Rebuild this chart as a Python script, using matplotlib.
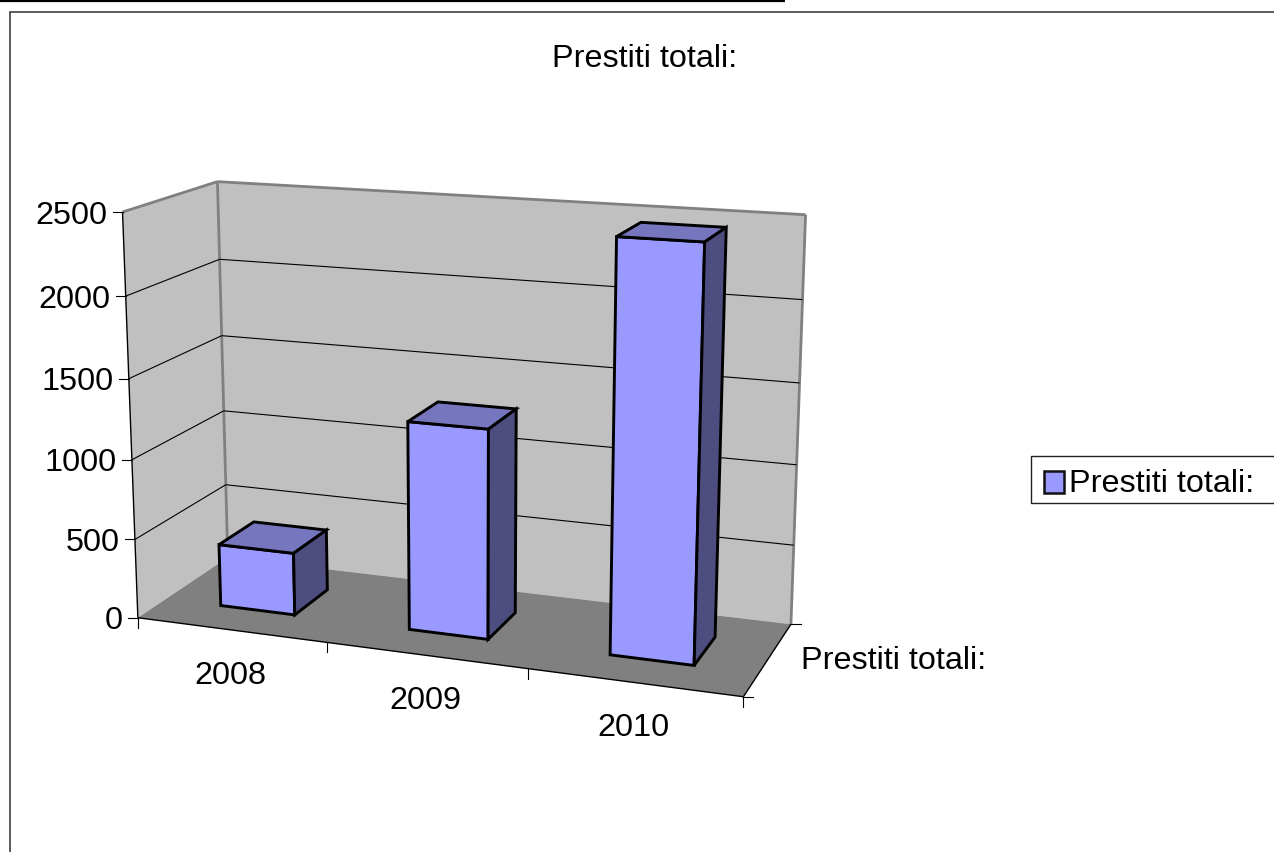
import numpy as np
import matplotlib
matplotlib.use('Agg')
import matplotlib.pyplot as plt
from matplotlib.patches import Polygon, Rectangle

years = ['2008', '2009', '2010']
prestiti = [395, 1290, 2465]
value_ticks = [0, 500, 1000, 1500, 2000, 2500]
series_name = 'Prestiti totali:'

# camera of the 3D box: (slot, depth, value / 2500, 1) -> homogeneous pixel
CAMERA = np.array([[178.909228, 108.821147, -20.706498, 137.876581],
                   [4.83842, -14.003912, -414.969112, 617.743045],
                   [-0.030848, 0.083041, -0.043686, 1.0]])
ZMAX = value_ticks[-1]
NCAT = len(years)

WALL = '#c0c0c0'
FLOOR = '#808080'
FRONT = '#9999ff'
TOP = '#7676bf'
SIDE = '#4d4d80'
FS = 23.3


def pr(x, y, z):
    h = CAMERA @ np.array([x, y, z / ZMAX, 1.0])
    return h[:2] / h[2]


def face(ax, corners, color, edge='black', lw=2.1, z=2):
    ax.add_patch(Polygon([pr(*c) for c in corners], closed=True, facecolor=color,
                         edgecolor=edge, linewidth=lw, joinstyle='miter', zorder=z))


def seg(ax, a, b, color='black', lw=0.8, z=3):
    p, q = pr(*a), pr(*b)
    ax.plot([p[0], q[0]], [p[1], q[1]], color=color, lw=lw,
            solid_capstyle='butt', zorder=z)


plt.rcParams['font.family'] = ['Liberation Sans', 'DejaVu Sans']
fig = plt.figure(figsize=(12.74, 8.52), dpi=100)
ax = fig.add_axes([0, 0, 1, 1])
ax.set_xlim(0, 1274)
ax.set_ylim(852, 0)
ax.axis('off')

# page rule and chart frame
ax.plot([0, 785], [0.8, 0.8], color='black', lw=1.6, solid_capstyle='butt')
ax.plot([9.7, 9.7, 1274], [852, 12, 12], color='#404040', lw=1.2, solid_joinstyle='miter')

# walls and floor
face(ax, [(0, 0, 0), (0, 1, 0), (0, 1, ZMAX), (0, 0, ZMAX)], WALL, edge='none', lw=0, z=1)
face(ax, [(0, 1, 0), (NCAT, 1, 0), (NCAT, 1, ZMAX), (0, 1, ZMAX)], WALL, edge='none', lw=0, z=1)
face(ax, [(0, 0, 0), (NCAT, 0, 0), (NCAT, 1, 0), (0, 1, 0)], FLOOR, edge='none', lw=0, z=1)

# wall outline in grey
seg(ax, (0, 0, ZMAX), (0, 1, ZMAX), color=FLOOR, lw=2.0, z=2)
seg(ax, (0, 1, ZMAX), (NCAT, 1, ZMAX), color=FLOOR, lw=2.0, z=2)
seg(ax, (0, 1, ZMAX), (0, 1, 0), color=FLOOR, lw=2.0, z=2)
seg(ax, (NCAT, 1, ZMAX), (NCAT, 1, 0), color=FLOOR, lw=2.0, z=2)

# gridlines
for v in value_ticks[1:-1]:
    seg(ax, (0, 0, v), (0, 1, v), z=2)
    seg(ax, (0, 1, v), (NCAT, 1, v), z=2)

# axis lines
seg(ax, (0, 0, 0), (0, 0, ZMAX), lw=1.0)
seg(ax, (0, 0, 0), (NCAT, 0, 0), lw=1.0)
seg(ax, (NCAT, 0, 0), (NCAT, 1, 0), lw=1.0)

# value axis ticks and labels
for v in value_ticks:
    p = pr(0, 0, v)
    ax.plot([p[0] - 10, p[0]], [p[1], p[1]], color='black', lw=0.8, zorder=3)
    ax.text(p[0] - 15.5, p[1] + 11.5, str(v), ha='right', va='baseline', fontsize=FS, color='black')

# category ticks and labels
for i in range(NCAT + 1):
    p = pr(i, 0, 0)
    ax.plot([p[0], p[0]], [p[1], p[1] + 10], color='black', lw=0.8, zorder=3)
for i, yr in enumerate(years):
    p = pr(i + 0.5, 0, 0)
    ax.text(p[0] - 1, p[1] + 54, yr, ha='center', va='baseline', fontsize=FS, color='black')

# depth axis ticks and label
for d in (0, 1):
    p = pr(NCAT, d, 0)
    ax.plot([p[0], p[0] + 10], [p[1], p[1]], color='black', lw=0.8, zorder=3)
ax.text(801, 669, series_name, ha='left', va='baseline', fontsize=FS, color='black')

# bars
for i, val in enumerate(prestiti):
    x0, x1 = i + 0.3, i + 0.7
    y0, y1 = 0.3, 0.7
    face(ax, [(x0, y0, 0), (x1, y0, 0), (x1, y0, val), (x0, y0, val)], FRONT, z=4 + i)
    face(ax, [(x0, y0, val), (x1, y0, val), (x1, y1, val), (x0, y1, val)], TOP, z=4 + i)
    face(ax, [(x1, y0, 0), (x1, y1, 0), (x1, y1, val), (x1, y0, val)], SIDE, z=4 + i)

ax.text(645, 67, series_name, ha='center', va='baseline', fontsize=FS, color='black')

# legend
ax.add_patch(Rectangle((1031, 455.5), 260, 47, facecolor='white', edgecolor='#202020', lw=1.0, zorder=3))
ax.add_patch(Rectangle((1043.5, 470.5), 20.5, 22, facecolor=FRONT, edgecolor='#101010', lw=1.8, zorder=4))
ax.text(1069, 492, series_name, ha='left', va='baseline', fontsize=FS, color='black', zorder=4)

fig.savefig('out.png', dpi=100)
